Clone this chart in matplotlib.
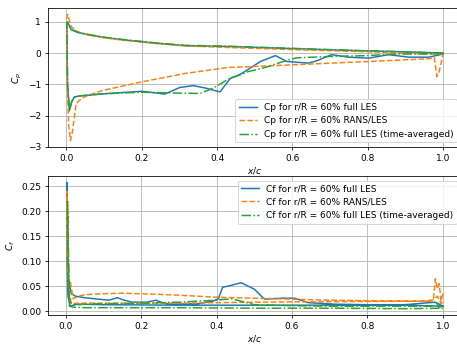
import numpy as np
import matplotlib
matplotlib.use("Agg")
import matplotlib.pyplot as plt

# Cp, upper (pressure) surface, from LE to TE
cp_xu = [0.001, 0.003, 0.0125, 0.03, 0.057, 0.1, 0.146, 0.235, 0.315, 0.43, 0.607, 0.784, 0.9, 1.0]
cp_les_u = [0.95, 0.99, 0.75, 0.66, 0.59, 0.5, 0.43, 0.32, 0.235, 0.21, 0.14, 0.074, 0.04, 0.0]
cp_rans_u = [1.1, 1.24, 0.85, 0.68, 0.58, 0.49, 0.42, 0.31, 0.23, 0.18, 0.11, 0.05, 0.0, -0.04]
cp_avg_u = [0.95, 1.0, 0.76, 0.67, 0.6, 0.51, 0.44, 0.33, 0.25, 0.22, 0.15, 0.08, 0.04, 0.0]

# Cp, lower (suction) surface, from LE to TE
cp_les_xl = [0.003, 0.008, 0.014, 0.021, 0.035, 0.057, 0.1, 0.2, 0.261, 0.301, 0.337, 0.37,
             0.408, 0.435, 0.45, 0.466, 0.515, 0.555, 0.586, 0.621, 0.643, 0.666, 0.704,
             0.749, 0.803, 0.856, 0.909, 0.963, 1.0]
cp_les_l = [-1.0, -1.83, -1.55, -1.4, -1.37, -1.35, -1.3, -1.22, -1.31, -1.1, -1.04, -1.12,
            -1.24, -0.81, -0.74, -0.65, -0.27, -0.08, -0.27, -0.3, -0.32, -0.24, -0.05,
            -0.13, -0.16, -0.05, -0.13, -0.13, -0.03]
cp_rans_xl = [0.002, 0.006, 0.0107, 0.016, 0.026, 0.04, 0.057, 0.101, 0.2, 0.315, 0.43,
              0.589, 0.8, 0.963, 0.977, 0.984, 0.99, 0.997, 1.0]
cp_rans_l = [-1.0, -2.3, -2.8, -2.5, -1.61, -1.45, -1.35, -1.18, -0.92, -0.65, -0.46,
             -0.38, -0.27, -0.18, -0.14, -0.75, -0.59, -0.22, -0.05]
cp_avg_xl = [0.003, 0.008, 0.014, 0.021, 0.035, 0.057, 0.1, 0.2, 0.3, 0.355, 0.39, 0.435,
             0.461, 0.483, 0.515, 0.536, 0.568, 0.589, 0.612, 0.696, 0.8, 0.874, 0.95, 1.0]
cp_avg_l = [-1.0, -1.85, -1.55, -1.42, -1.37, -1.34, -1.3, -1.25, -1.28, -1.29, -1.12, -0.8,
            -0.7, -0.59, -0.5, -0.43, -0.3, -0.22, -0.15, -0.11, -0.08, -0.03, -0.03, -0.02]

# Cf, upper surface (LE to TE)
cf_les_xu = [0.003, 0.008, 0.015, 0.026, 0.05, 0.088, 0.115, 0.137, 0.155, 0.177, 0.215,
             0.239, 0.26, 0.284, 0.35, 0.39, 0.405, 0.416, 0.43, 0.465, 0.5, 0.527, 0.572,
             0.607, 0.643, 0.714, 0.8, 0.9, 0.963, 0.98, 1.0]
cf_les_u = [0.258, 0.06, 0.035, 0.030, 0.027, 0.024, 0.022, 0.027, 0.022, 0.018, 0.018,
            0.022, 0.016, 0.014, 0.015, 0.02, 0.025, 0.048, 0.05, 0.057, 0.044, 0.024, 0.026,
            0.026, 0.017, 0.014, 0.013, 0.013, 0.017, 0.018, 0.01]
cf_rans_xu = [0.003, 0.008, 0.012, 0.02, 0.035, 0.05, 0.1, 0.15, 0.2, 0.3, 0.4, 0.5, 0.6,
              0.7, 0.8, 0.9, 0.96, 0.975, 0.98, 0.985, 0.99, 0.995, 1.0]
cf_rans_u = [0.24, 0.05, 0.06, 0.025, 0.03, 0.033, 0.035, 0.036, 0.035, 0.032, 0.028, 0.026,
             0.024, 0.022, 0.021, 0.02, 0.02, 0.025, 0.065, 0.045, 0.055, 0.02, 0.035]
cf_avg_xu = [0.005, 0.01, 0.02, 0.05, 0.1, 0.2, 0.3, 0.4, 0.44, 0.5, 0.6, 0.7, 0.8, 0.9,
             0.97, 0.98, 0.99, 1.0]
cf_avg_u = [0.22, 0.02, 0.012, 0.014, 0.015, 0.016, 0.018, 0.022, 0.025, 0.013, 0.011, 0.01,
            0.01, 0.01, 0.01, 0.02, 0.008, 0.01]

# Cf, lower surface (LE to TE)
cf_les_xl = [0.004, 0.006, 0.012, 0.03, 0.1, 0.3, 0.5, 0.7, 0.9, 1.0]
cf_les_l = [0.1, 0.03, 0.01, 0.014, 0.013, 0.012, 0.012, 0.012, 0.012, 0.01]
cf_rans_xl = [0.004, 0.008, 0.015, 0.03, 0.1, 0.3, 0.5, 0.7, 0.9, 0.97, 0.985, 0.995, 1.0]
cf_rans_l = [0.1, 0.045, 0.015, 0.016, 0.016, 0.016, 0.018, 0.019, 0.02, 0.02, 0.03, 0.015, 0.02]
cf_avg_xl = [0.006, 0.01, 0.02, 0.05, 0.1, 0.3, 0.5, 0.7, 0.9, 1.0]
cf_avg_l = [0.08, 0.01, 0.008, 0.007, 0.007, 0.007, 0.006, 0.006, 0.005, 0.006]

labels = ["full LES", "RANS/LES", "full LES (time-averaged)"]
styles = ["-", "--", "-."]


def loop(xu, yu, xl, yl):
    # upper surface TE -> LE, then lower surface LE -> TE
    return np.concatenate([xu[::-1], xl]), np.concatenate([yu[::-1], yl])


cp_sets = [
    loop(cp_xu, cp_les_u, cp_les_xl, cp_les_l),
    loop(cp_xu, cp_rans_u, cp_rans_xl, cp_rans_l),
    loop(cp_xu, cp_avg_u, cp_avg_xl, cp_avg_l),
]
cf_sets = [
    loop(cf_les_xu, cf_les_u, cf_les_xl, cf_les_l),
    loop(cf_rans_xu, cf_rans_u, cf_rans_xl, cf_rans_l),
    loop(cf_avg_xu, cf_avg_u, cf_avg_xl, cf_avg_l),
]

plt.rc("font", size=9.1)

dpi = 71.5
fig = plt.figure(figsize=(457 / dpi, 344 / dpi), dpi=dpi)
ax1 = fig.add_axes([48 / 457, 197 / 344, 413.75 / 457, 139 / 344])
ax2 = fig.add_axes([48 / 457, 29 / 344, 413.75 / 457, 139 / 344])

for (x, y), lab, ls in zip(cp_sets, labels, styles):
    ax1.plot(x, y, ls, label=f"Cp for r/R = 60% {lab}")
for (x, y), lab, ls in zip(cf_sets, labels, styles):
    ax2.plot(x, y, ls, label=f"Cf for r/R = 60% {lab}")

ax1.set_ylabel("$C_p$")
ax2.set_ylabel("$C_f$")
for ax in (ax1, ax2):
    ax.set_xlabel("$x/c$", labelpad=2)
    ax.grid(True)

ax1.legend(loc="lower right")
ax2.legend(loc="upper right")

fig.savefig("out.png", dpi=dpi)
